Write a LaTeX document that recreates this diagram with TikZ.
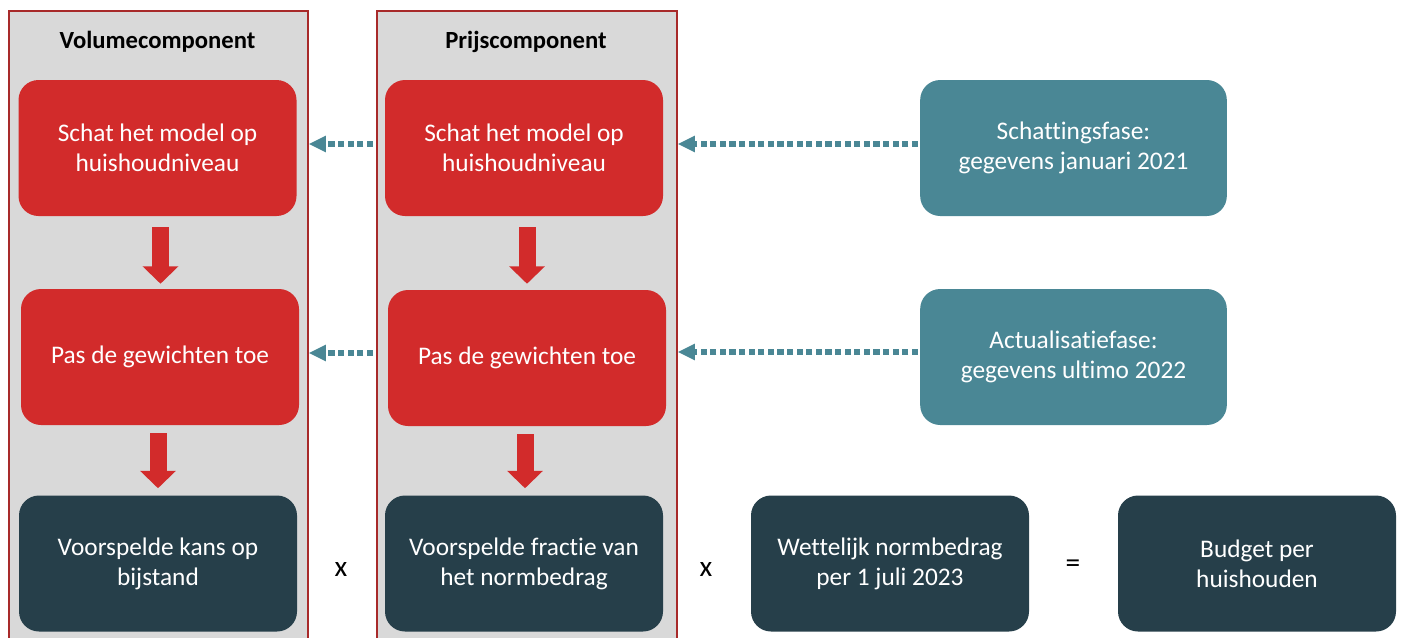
\documentclass[tikz,border=0pt]{standalone}
\usepackage{fontspec}
\setmainfont{Carlito}[Ligatures=NoCommon]
\usetikzlibrary{arrows.meta,calc}
\definecolor{cred}{HTML}{D22B2B}
\definecolor{cteal}{HTML}{4A8795}
\definecolor{cdark}{HTML}{263F4A}
\definecolor{cpanel}{HTML}{D9D9D9}
\definecolor{cborder}{HTML}{A82A2A}
\tikzset{
  panel/.style={draw=cborder,line width=1.2pt,fill=cpanel,anchor=north west,inner sep=0pt},
  box/.style={rounded corners=15pt,minimum width=208.5pt,minimum height=102pt,inner sep=0pt,
    text=white,align=center,font=\fontsize{19}{22.5}\selectfont},
  redbox/.style={box,fill=cred},
  tealbox/.style={box,fill=cteal,minimum width=230pt},
  darkbox/.style={box,fill=cdark},
  title/.style={font=\fontsize{18.5}{20}\selectfont\bfseries},
  op/.style={font=\fontsize{22}{24}\selectfont},
  blockarrow/.style={draw=cred,line width=12.75pt,-{Triangle[width=26pt,length=13pt]}},
  dotarrow/.style={draw=cteal,line width=4pt,dash pattern=on 4.6pt off 2.6pt,
    -{Triangle[width=11.5pt,length=13pt]}},
}
\begin{document}
\begin{tikzpicture}[x=0.75pt,y=-0.75pt]
\useasboundingbox (0,0) rectangle (1402,637);
% panels
\node[panel,minimum width=224.25pt,minimum height=471pt] (P1) at (8,10) {};
\node[panel,minimum width=225pt,minimum height=471pt] (P2) at (376,10) {};
\node[title] (t1) at (157.5,42) {Volumecomponent};
\node[title] (t2) at (526,42) {Prijscomponent};
% column 1
\node[redbox] (a1) at (157.5,148) {Schat het model op\\huishoudniveau};
\node[redbox] (a2) at (160,357) {Pas de gewichten toe};
\node[darkbox] (a3) at (158,563.5) {Voorspelde kans op\\bijstand};
% column 2
\node[redbox] (b1) at (524,148) {Schat het model op\\huishoudniveau};
\node[redbox] (b2) at (527,358) {Pas de gewichten toe};
\node[darkbox] (b3) at (524,563.5) {Voorspelde fractie van\\het normbedrag};
% teal
\node[tealbox] (s1) at (1073.5,148) {Schattingsfase:\\gegevens januari 2021};
\node[tealbox] (s2) at (1073.5,357) {Actualisatiefase:\\gegevens ultimo 2022};
% bottom right
\node[darkbox] (c1) at (890,563.5) {Wettelijk normbedrag\\per 1 juli 2023};
\node[darkbox] (c2) at (1257,563.5) {Budget per\\huishouden};
% operators
\node[op] (x1) at (341,569) {x};
\node[op] (x2) at (706,569) {x};
\node[op] (eq) at (1073,566) {=};
% block arrows
\draw[blockarrow] ($(a1.south)+(3,11)$) -- ($(a1.south |- a2.north)+(3,-5)$);
\draw[blockarrow] ($(a2.south)+(-2,8)$) -- ($(a2.south |- a3.north)+(-2,-7)$);
\draw[blockarrow] ($(b1.south)+(3,11)$) -- ($(b1.south |- b2.north)+(3,-6)$);
\draw[blockarrow] ($(b2.south)+(-2,8)$) -- ($(b2.south |- b3.north)+(-2,-7)$);
% dotted arrows
\draw[dotarrow] ($(s1.west)+(-2,-4)$) -- ($(P2.east |- s1.west)+(0,-4)$);
\draw[dotarrow] ($(s2.west)+(-2,-5)$) -- ($(P2.east |- s2.west)+(0,-5)$);
\draw[dotarrow] ($(P2.west |- b1.west)+(-3,-4)$) -- ($(P1.east |- b1.west)+(0,-4)$);
\draw[dotarrow] ($(P2.west |- b2.west)+(-3,-5)$) -- ($(P1.east |- b2.west)+(0,-5)$);
\end{tikzpicture}
\end{document}
